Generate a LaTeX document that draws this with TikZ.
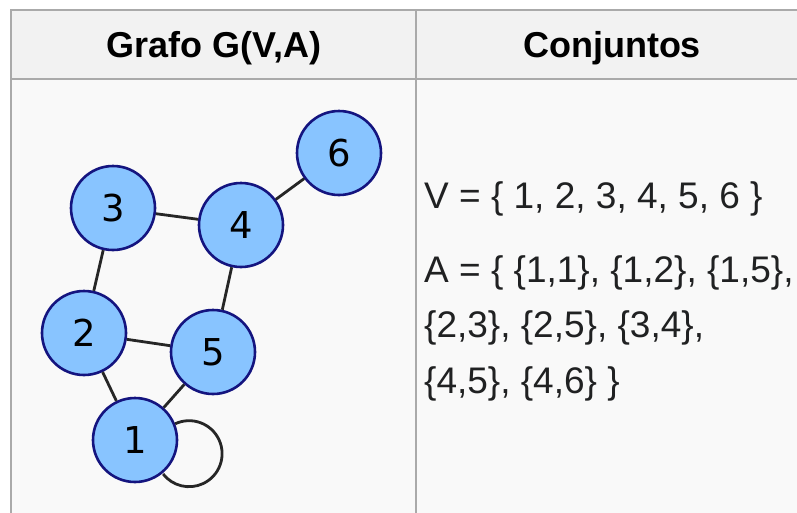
\documentclass[tikz,border=0pt]{standalone}
\usepackage{fontspec}
\setmainfont{Liberation Sans}
\newfontfamily\numfont{DejaVu Sans}
\definecolor{tblborder}{HTML}{AAAAAA}
\definecolor{hdrbg}{HTML}{F2F2F2}
\definecolor{bodybg}{HTML}{F9F9F9}
\definecolor{vfill}{HTML}{88C4FF}
\definecolor{vdraw}{HTML}{14147F}
\definecolor{txt}{HTML}{202122}
\begin{document}
\begin{tikzpicture}[x=1pt,y=-1pt,
  vertex/.style={circle,draw=vdraw,line width=2.6pt,fill=vfill,minimum size=84pt,inner sep=0pt,
    font=\numfont\fontsize{37}{40}\selectfont},
  edge/.style={line width=2.8pt,black!85},
  hdr/.style={anchor=base,font=\bfseries\fontsize{36}{40}\selectfont,text=black},
  settext/.style={anchor=base west,inner sep=0pt,font=\fontsize{37}{40}\selectfont,text=txt},
  gridline/.style={draw=tblborder,line width=2pt}]
\useasboundingbox (0,0) rectangle (797,512);
\fill[white] (0,0) rectangle (797,512);
% table backgrounds
\fill[hdrbg] (11,10) rectangle (810,79);
\fill[bodybg] (11,79) rectangle (810,520);
\draw[gridline] (11,520) -- (11,10) -- (810,10);
\draw[gridline] (11,79) -- (810,79);
\draw[gridline] (416,10) -- (416,520);
% headers
\node[hdr] (h1) at (214,57) {Grafo G(V,A)};
\node[hdr] (h2) at (612,57) {Conjuntos};
% vertices
\node[vertex] (n1) at (135,440) {1};
\node[vertex] (n2) at (84,333) {2};
\node[vertex] (n3) at (113,208) {3};
\node[vertex] (n4) at (241,225) {4};
\node[vertex] (n5) at (213,352) {5};
\node[vertex] (n6) at (339,153) {6};
% edges
\draw[edge] (n1) -- (n2);
\draw[edge] (n1) -- (n5);
\draw[edge] (n2) -- (n3);
\draw[edge] (n2) -- (n5);
\draw[edge] (n3) -- (n4);
\draw[edge] (n4) -- (n5);
\draw[edge] (n4) -- (n6);
\draw[edge] (n1.22) arc[start angle=-115,end angle=142,radius=33];
% sets
\node[settext] (tv) at (424,208) {V = \{ 1, 2, 3, 4, 5, 6 \}};
\node[settext] (ta1) at (424,282) {A = \{ \{1,1\}, \{1,2\}, \{1,5\},};
\node[settext] (ta2) at (424,337) {\{2,3\}, \{2,5\}, \{3,4\},};
\node[settext] (ta3) at (424,393) {\{4,5\}, \{4,6\} \}};
\end{tikzpicture}
\end{document}
